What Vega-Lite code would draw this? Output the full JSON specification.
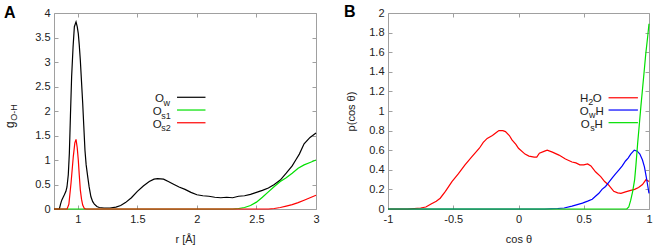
{
  "$schema": "https://vega.github.io/schema/vega-lite/v6.json",
  "padding": {"left": 3, "top": 3, "right": 4, "bottom": 2},
  "spacing": 72,
  "bounds": "flush",
  "resolve": {"scale": {"color": "independent"}},
  "config": {
    "font": "Liberation Sans",
    "view": {"stroke": "#a0a0a0", "strokeWidth": 1},
    "axis": {"domain": false, "grid": false, "tickColor": "#a0a0a0", "tickSize": -4, "labelFontSize": 11, "labelColor": "#222", "titleFontSize": 11, "titleFontWeight": "normal", "titleColor": "#222", "labelPadding": 8, "labelFlush": false, "labelOverlap": false},
    "text": {"font": "Liberation Sans", "color": "#222"}
  },
  "datasets": {
    "gA": [
      {"series":"Ow","r":0.8,"g":0},{"series":"Ow","r":0.845,"g":0},{"series":"Ow","r":0.855,"g":0.1},{"series":"Ow","r":0.865,"g":0.18},{"series":"Ow","r":0.875,"g":0.23},{"series":"Ow","r":0.887,"g":0.29},{"series":"Ow","r":0.9,"g":0.36},{"series":"Ow","r":0.909,"g":0.45},{"series":"Ow","r":0.92,"g":0.7},{"series":"Ow","r":0.929,"g":1.14},{"series":"Ow","r":0.938,"g":1.9},{"series":"Ow","r":0.948,"g":2.7},{"series":"Ow","r":0.96,"g":3.3},{"series":"Ow","r":0.971,"g":3.72},{"series":"Ow","r":0.985,"g":3.82},{"series":"Ow","r":0.995,"g":3.72},{"series":"Ow","r":1.004,"g":3.58},{"series":"Ow","r":1.012,"g":3.35},{"series":"Ow","r":1.021,"g":3.04},{"series":"Ow","r":1.031,"g":2.6},{"series":"Ow","r":1.041,"g":2.16},{"series":"Ow","r":1.05,"g":1.7},{"series":"Ow","r":1.06,"g":1.2},{"series":"Ow","r":1.07,"g":0.9},{"series":"Ow","r":1.083,"g":0.66},{"series":"Ow","r":1.095,"g":0.45},{"series":"Ow","r":1.11,"g":0.25},{"series":"Ow","r":1.125,"g":0.15},{"series":"Ow","r":1.139,"g":0.1},{"series":"Ow","r":1.16,"g":0.05},{"series":"Ow","r":1.18,"g":0.03},{"series":"Ow","r":1.22,"g":0.02},{"series":"Ow","r":1.27,"g":0.02},{"series":"Ow","r":1.32,"g":0.04},{"series":"Ow","r":1.36,"g":0.07},{"series":"Ow","r":1.4,"g":0.13},{"series":"Ow","r":1.45,"g":0.23},{"series":"Ow","r":1.5,"g":0.36},{"series":"Ow","r":1.55,"g":0.47},{"series":"Ow","r":1.6,"g":0.56},{"series":"Ow","r":1.64,"g":0.61},{"series":"Ow","r":1.67,"g":0.62},{"series":"Ow","r":1.72,"g":0.61},{"series":"Ow","r":1.76,"g":0.56},{"series":"Ow","r":1.8,"g":0.51},{"series":"Ow","r":1.85,"g":0.45},{"series":"Ow","r":1.9,"g":0.4},{"series":"Ow","r":1.95,"g":0.34},{"series":"Ow","r":2.0,"g":0.29},{"series":"Ow","r":2.05,"g":0.27},{"series":"Ow","r":2.1,"g":0.26},{"series":"Ow","r":2.15,"g":0.24},{"series":"Ow","r":2.2,"g":0.23},{"series":"Ow","r":2.25,"g":0.24},{"series":"Ow","r":2.3,"g":0.23},{"series":"Ow","r":2.35,"g":0.26},{"series":"Ow","r":2.4,"g":0.27},{"series":"Ow","r":2.45,"g":0.3},{"series":"Ow","r":2.5,"g":0.34},{"series":"Ow","r":2.55,"g":0.38},{"series":"Ow","r":2.6,"g":0.43},{"series":"Ow","r":2.65,"g":0.5},{"series":"Ow","r":2.7,"g":0.59},{"series":"Ow","r":2.75,"g":0.73},{"series":"Ow","r":2.8,"g":0.88},{"series":"Ow","r":2.83,"g":1.0},{"series":"Ow","r":2.86,"g":1.12},{"series":"Ow","r":2.9,"g":1.33},{"series":"Ow","r":2.95,"g":1.46},{"series":"Ow","r":3.0,"g":1.55},
      {"series":"Os1","r":0.8,"g":0},{"series":"Os1","r":2.3,"g":0},{"series":"Os1","r":2.35,"g":0.01},{"series":"Os1","r":2.4,"g":0.03},{"series":"Os1","r":2.45,"g":0.07},{"series":"Os1","r":2.5,"g":0.14},{"series":"Os1","r":2.55,"g":0.24},{"series":"Os1","r":2.6,"g":0.35},{"series":"Os1","r":2.65,"g":0.46},{"series":"Os1","r":2.7,"g":0.56},{"series":"Os1","r":2.75,"g":0.64},{"series":"Os1","r":2.8,"g":0.73},{"series":"Os1","r":2.85,"g":0.83},{"series":"Os1","r":2.9,"g":0.9},{"series":"Os1","r":2.95,"g":0.95},{"series":"Os1","r":3.0,"g":1.0},
      {"series":"Os2","r":0.8,"g":0},{"series":"Os2","r":0.91,"g":0},{"series":"Os2","r":0.925,"g":0.1},{"series":"Os2","r":0.943,"g":0.53},{"series":"Os2","r":0.962,"g":1.07},{"series":"Os2","r":0.975,"g":1.35},{"series":"Os2","r":0.985,"g":1.42},{"series":"Os2","r":0.995,"g":1.25},{"series":"Os2","r":1.004,"g":1.0},{"series":"Os2","r":1.012,"g":0.7},{"series":"Os2","r":1.021,"g":0.39},{"series":"Os2","r":1.031,"g":0.2},{"series":"Os2","r":1.041,"g":0.08},{"series":"Os2","r":1.055,"g":0.01},{"series":"Os2","r":1.07,"g":0},{"series":"Os2","r":2.6,"g":0},{"series":"Os2","r":2.65,"g":0.01},{"series":"Os2","r":2.7,"g":0.03},{"series":"Os2","r":2.75,"g":0.06},{"series":"Os2","r":2.8,"g":0.09},{"series":"Os2","r":2.85,"g":0.13},{"series":"Os2","r":2.9,"g":0.18},{"series":"Os2","r":2.95,"g":0.23},{"series":"Os2","r":3.0,"g":0.28}
    ],
    "pB": [
      {"series":"H2O","c":-1,"p":0},{"series":"H2O","c":-0.85,"p":0},{"series":"H2O","c":-0.8,"p":0.005},{"series":"H2O","c":-0.75,"p":0.01},{"series":"H2O","c":-0.71,"p":0.02},{"series":"H2O","c":-0.67,"p":0.05},{"series":"H2O","c":-0.63,"p":0.08},{"series":"H2O","c":-0.6,"p":0.11},{"series":"H2O","c":-0.56,"p":0.18},{"series":"H2O","c":-0.51,"p":0.28},{"series":"H2O","c":-0.46,"p":0.36},{"series":"H2O","c":-0.41,"p":0.45},{"series":"H2O","c":-0.36,"p":0.53},{"series":"H2O","c":-0.3,"p":0.62},{"series":"H2O","c":-0.27,"p":0.68},{"series":"H2O","c":-0.24,"p":0.72},{"series":"H2O","c":-0.2,"p":0.75},{"series":"H2O","c":-0.17,"p":0.78},{"series":"H2O","c":-0.15,"p":0.8},{"series":"H2O","c":-0.12,"p":0.8},{"series":"H2O","c":-0.1,"p":0.79},{"series":"H2O","c":-0.07,"p":0.75},{"series":"H2O","c":-0.05,"p":0.705},{"series":"H2O","c":-0.02,"p":0.66},{"series":"H2O","c":0,"p":0.62},{"series":"H2O","c":0.05,"p":0.56},{"series":"H2O","c":0.08,"p":0.54},{"series":"H2O","c":0.12,"p":0.53},{"series":"H2O","c":0.14,"p":0.53},{"series":"H2O","c":0.16,"p":0.57},{"series":"H2O","c":0.2,"p":0.59},{"series":"H2O","c":0.22,"p":0.6},{"series":"H2O","c":0.26,"p":0.58},{"series":"H2O","c":0.31,"p":0.55},{"series":"H2O","c":0.36,"p":0.51},{"series":"H2O","c":0.41,"p":0.48},{"series":"H2O","c":0.44,"p":0.47},{"series":"H2O","c":0.47,"p":0.45},{"series":"H2O","c":0.5,"p":0.45},{"series":"H2O","c":0.53,"p":0.46},{"series":"H2O","c":0.555,"p":0.44},{"series":"H2O","c":0.59,"p":0.38},{"series":"H2O","c":0.63,"p":0.33},{"series":"H2O","c":0.66,"p":0.28},{"series":"H2O","c":0.69,"p":0.245},{"series":"H2O","c":0.73,"p":0.18},{"series":"H2O","c":0.76,"p":0.165},{"series":"H2O","c":0.785,"p":0.16},{"series":"H2O","c":0.82,"p":0.175},{"series":"H2O","c":0.86,"p":0.19},{"series":"H2O","c":0.89,"p":0.2},{"series":"H2O","c":0.92,"p":0.22},{"series":"H2O","c":0.95,"p":0.25},{"series":"H2O","c":0.977,"p":0.3},{"series":"H2O","c":1,"p":0.28},
      {"series":"OwH","c":-1,"p":0},{"series":"OwH","c":0.2,"p":0},{"series":"OwH","c":0.3,"p":0.005},{"series":"OwH","c":0.35,"p":0.01},{"series":"OwH","c":0.41,"p":0.03},{"series":"OwH","c":0.45,"p":0.045},{"series":"OwH","c":0.49,"p":0.06},{"series":"OwH","c":0.53,"p":0.08},{"series":"OwH","c":0.565,"p":0.1},{"series":"OwH","c":0.59,"p":0.13},{"series":"OwH","c":0.616,"p":0.16},{"series":"OwH","c":0.64,"p":0.2},{"series":"OwH","c":0.667,"p":0.23},{"series":"OwH","c":0.69,"p":0.27},{"series":"OwH","c":0.72,"p":0.32},{"series":"OwH","c":0.745,"p":0.36},{"series":"OwH","c":0.77,"p":0.4},{"series":"OwH","c":0.795,"p":0.44},{"series":"OwH","c":0.82,"p":0.49},{"series":"OwH","c":0.84,"p":0.52},{"series":"OwH","c":0.86,"p":0.56},{"series":"OwH","c":0.887,"p":0.6},{"series":"OwH","c":0.91,"p":0.59},{"series":"OwH","c":0.93,"p":0.56},{"series":"OwH","c":0.95,"p":0.5},{"series":"OwH","c":0.965,"p":0.43},{"series":"OwH","c":0.98,"p":0.32},{"series":"OwH","c":0.99,"p":0.24},{"series":"OwH","c":1,"p":0.16},
      {"series":"OsH","c":-1,"p":0},{"series":"OsH","c":0.83,"p":0},{"series":"OsH","c":0.845,"p":0.02},{"series":"OsH","c":0.86,"p":0.09},{"series":"OsH","c":0.875,"p":0.18},{"series":"OsH","c":0.89,"p":0.3},{"series":"OsH","c":0.9,"p":0.45},{"series":"OsH","c":0.913,"p":0.67},{"series":"OsH","c":0.925,"p":0.85},{"series":"OsH","c":0.938,"p":1.05},{"series":"OsH","c":0.95,"p":1.22},{"series":"OsH","c":0.962,"p":1.39},{"series":"OsH","c":0.975,"p":1.58},{"series":"OsH","c":0.99,"p":1.76},{"series":"OsH","c":1,"p":1.89}
    ]
  },
  "hconcat": [
    {
      "width": 262, "height": 196,
      "resolve": {"axis": {"x": "independent", "y": "independent"}},
      "layer": [
        {
          "data": {"name": "gA"},
          "mark": {"type": "line", "strokeWidth": 1.2},
          "encoding": {
            "x": {"field": "r", "type": "quantitative", "scale": {"domain": [0.8, 3], "nice": false, "zero": false}, "axis": {"values": [1, 1.5, 2, 2.5, 3], "labelExpr": "'' + datum.value", "title": "r [Å]", "titlePadding": 9}},
            "y": {"field": "g", "type": "quantitative", "scale": {"domain": [0, 4], "nice": false}, "axis": {"values": [0, 0.5, 1, 1.5, 2, 2.5, 3, 3.5, 4], "labelExpr": "'' + datum.value", "title": null}},
            "color": {"field": "series", "type": "nominal", "scale": {"domain": ["Ow", "Os1", "Os2"], "range": ["#000000", "#00e000", "#ff0000"]}, "legend": null}
          }
        },
        {
          "data": {"values": [{"t": "A"}]},
          "mark": {"type": "text", "align": "left", "baseline": "alphabetic", "fontSize": 16, "fontWeight": "bold", "color": "#000000"},
          "encoding": {
            "text": {"field": "t"},
            "x": {"datum": 0.38, "type": "quantitative", "axis": {"orient": "top", "values": [1, 1.5, 2, 2.5, 3], "labels": false, "title": null}},
            "y": {"datum": 3.898, "type": "quantitative", "axis": {"orient": "right", "values": [0, 0.5, 1, 1.5, 2, 2.5, 3, 3.5, 4], "labels": false, "title": null}}
          }
        },
        {
          "data": {"values": [{}]},
          "mark": {"type": "rule", "strokeWidth": 1.2},
          "encoding": {"color": {"value": "#000000"}, "x": {"datum": 1.833, "type": "quantitative", "axis": null}, "x2": {"datum": 2.072}, "y": {"datum": 2.28, "type": "quantitative", "axis": null}}
        },
        {
          "data": {"values": [{}]},
          "mark": {"type": "rule", "strokeWidth": 1.2},
          "encoding": {"color": {"value": "#00e000"}, "x": {"datum": 1.833, "type": "quantitative", "axis": null}, "x2": {"datum": 2.072}, "y": {"datum": 2.02, "type": "quantitative", "axis": null}}
        },
        {
          "data": {"values": [{}]},
          "mark": {"type": "rule", "strokeWidth": 1.2},
          "encoding": {"color": {"value": "#ff0000"}, "x": {"datum": 1.833, "type": "quantitative", "axis": null}, "x2": {"datum": 2.072}, "y": {"datum": 1.76, "type": "quantitative", "axis": null}}
        },
        {
          "data": {"values": [{"t": "O"}]},
          "mark": {"type": "text", "align": "left", "baseline": "alphabetic", "dy": 5, "fontSize": 11.5},
          "encoding": {"text": {"field": "t"}, "x": {"datum": 1.648, "type": "quantitative", "axis": null}, "y": {"datum": 2.28, "type": "quantitative", "axis": null}}
        },
        {
          "data": {"values": [{"t": "w"}]},
          "mark": {"type": "text", "align": "left", "baseline": "alphabetic", "dy": 8.5, "fontSize": 9},
          "encoding": {"text": {"field": "t"}, "x": {"datum": 1.72, "type": "quantitative", "axis": null}, "y": {"datum": 2.28, "type": "quantitative", "axis": null}}
        },
        {
          "data": {"values": [{"t": "O"}]},
          "mark": {"type": "text", "align": "left", "baseline": "alphabetic", "dy": 5, "fontSize": 11.5},
          "encoding": {"text": {"field": "t"}, "x": {"datum": 1.629, "type": "quantitative", "axis": null}, "y": {"datum": 2.02, "type": "quantitative", "axis": null}}
        },
        {
          "data": {"values": [{"t": "s1"}]},
          "mark": {"type": "text", "align": "left", "baseline": "alphabetic", "dy": 8.5, "fontSize": 9},
          "encoding": {"text": {"field": "t"}, "x": {"datum": 1.7, "type": "quantitative", "axis": null}, "y": {"datum": 2.02, "type": "quantitative", "axis": null}}
        },
        {
          "data": {"values": [{"t": "O"}]},
          "mark": {"type": "text", "align": "left", "baseline": "alphabetic", "dy": 5, "fontSize": 11.5},
          "encoding": {"text": {"field": "t"}, "x": {"datum": 1.629, "type": "quantitative", "axis": null}, "y": {"datum": 1.76, "type": "quantitative", "axis": null}}
        },
        {
          "data": {"values": [{"t": "s2"}]},
          "mark": {"type": "text", "align": "left", "baseline": "alphabetic", "dy": 8.5, "fontSize": 9},
          "encoding": {"text": {"field": "t"}, "x": {"datum": 1.7, "type": "quantitative", "axis": null}, "y": {"datum": 1.76, "type": "quantitative", "axis": null}}
        },
        {
          "data": {"values": [{"t": "g"}]},
          "mark": {"type": "text", "align": "left", "baseline": "alphabetic", "angle": 270, "fontSize": 12},
          "encoding": {"text": {"field": "t"}, "x": {"datum": 0.468, "type": "quantitative", "axis": null}, "y": {"datum": 1.653, "type": "quantitative", "axis": null}}
        },
        {
          "data": {"values": [{"t": "O-H"}]},
          "mark": {"type": "text", "align": "left", "baseline": "alphabetic", "angle": 270, "fontSize": 9},
          "encoding": {"text": {"field": "t"}, "x": {"datum": 0.487, "type": "quantitative", "axis": null}, "y": {"datum": 1.8, "type": "quantitative", "axis": null}}
        }
      ]
    },
    {
      "width": 261, "height": 196,
      "resolve": {"axis": {"x": "independent", "y": "independent"}},
      "layer": [
        {
          "data": {"name": "pB"},
          "mark": {"type": "line", "strokeWidth": 1.2},
          "encoding": {
            "x": {"field": "c", "type": "quantitative", "scale": {"domain": [-1, 1], "nice": false, "zero": false}, "axis": {"values": [-1, -0.5, 0, 0.5, 1], "labelExpr": "'' + datum.value", "title": "cos θ", "titlePadding": 9}},
            "y": {"field": "p", "type": "quantitative", "scale": {"domain": [0, 2], "nice": false}, "axis": {"values": [0, 0.2, 0.4, 0.6, 0.8, 1, 1.2, 1.4, 1.6, 1.8, 2], "labelExpr": "'' + datum.value", "title": "p(cos θ)", "titlePadding": 12}},
            "color": {"field": "series", "type": "nominal", "scale": {"domain": ["H2O", "OwH", "OsH"], "range": ["#ff0000", "#0000ff", "#00e000"]}, "legend": null}
          }
        },
        {
          "data": {"values": [{"t": "B"}]},
          "mark": {"type": "text", "align": "left", "baseline": "alphabetic", "fontSize": 16, "fontWeight": "bold", "color": "#000000"},
          "encoding": {
            "text": {"field": "t"},
            "x": {"datum": -1.338, "type": "quantitative", "axis": {"orient": "top", "values": [-1, -0.5, 0, 0.5, 1], "labels": false, "title": null}},
            "y": {"datum": 1.959, "type": "quantitative", "axis": {"orient": "right", "values": [0, 0.2, 0.4, 0.6, 0.8, 1, 1.2, 1.4, 1.6, 1.8, 2], "labels": false, "title": null}}
          }
        },
        {
          "data": {"values": [{}]},
          "mark": {"type": "rule", "strokeWidth": 1.2},
          "encoding": {"color": {"value": "#ff0000"}, "x": {"datum": 0.69, "type": "quantitative", "axis": null}, "x2": {"datum": 0.915}, "y": {"datum": 1.135, "type": "quantitative", "axis": null}}
        },
        {
          "data": {"values": [{}]},
          "mark": {"type": "rule", "strokeWidth": 1.2},
          "encoding": {"color": {"value": "#0000ff"}, "x": {"datum": 0.69, "type": "quantitative", "axis": null}, "x2": {"datum": 0.915}, "y": {"datum": 1.01, "type": "quantitative", "axis": null}}
        },
        {
          "data": {"values": [{}]},
          "mark": {"type": "rule", "strokeWidth": 1.2},
          "encoding": {"color": {"value": "#00e000"}, "x": {"datum": 0.69, "type": "quantitative", "axis": null}, "x2": {"datum": 0.915}, "y": {"datum": 0.881, "type": "quantitative", "axis": null}}
        },
        {
          "data": {"values": [{"t": "H"}]},
          "mark": {"type": "text", "align": "left", "baseline": "alphabetic", "dy": 5, "fontSize": 11.5},
          "encoding": {"text": {"field": "t"}, "x": {"datum": 0.4715, "type": "quantitative", "axis": null}, "y": {"datum": 1.14, "type": "quantitative", "axis": null}}
        },
        {
          "data": {"values": [{"t": "2"}]},
          "mark": {"type": "text", "align": "left", "baseline": "alphabetic", "dy": 8, "fontSize": 9},
          "encoding": {"text": {"field": "t"}, "x": {"datum": 0.535, "type": "quantitative", "axis": null}, "y": {"datum": 1.14, "type": "quantitative", "axis": null}}
        },
        {
          "data": {"values": [{"t": "O"}]},
          "mark": {"type": "text", "align": "left", "baseline": "alphabetic", "dy": 5, "fontSize": 11.5},
          "encoding": {"text": {"field": "t"}, "x": {"datum": 0.569, "type": "quantitative", "axis": null}, "y": {"datum": 1.14, "type": "quantitative", "axis": null}}
        },
        {
          "data": {"values": [{"t": "O"}]},
          "mark": {"type": "text", "align": "left", "baseline": "alphabetic", "dy": 5, "fontSize": 11.5},
          "encoding": {"text": {"field": "t"}, "x": {"datum": 0.469, "type": "quantitative", "axis": null}, "y": {"datum": 1.01, "type": "quantitative", "axis": null}}
        },
        {
          "data": {"values": [{"t": "w"}]},
          "mark": {"type": "text", "align": "left", "baseline": "alphabetic", "dy": 8, "fontSize": 9},
          "encoding": {"text": {"field": "t"}, "x": {"datum": 0.541, "type": "quantitative", "axis": null}, "y": {"datum": 1.01, "type": "quantitative", "axis": null}}
        },
        {
          "data": {"values": [{"t": "H"}]},
          "mark": {"type": "text", "align": "left", "baseline": "alphabetic", "dy": 5, "fontSize": 11.5},
          "encoding": {"text": {"field": "t"}, "x": {"datum": 0.59, "type": "quantitative", "axis": null}, "y": {"datum": 1.01, "type": "quantitative", "axis": null}}
        },
        {
          "data": {"values": [{"t": "O"}]},
          "mark": {"type": "text", "align": "left", "baseline": "alphabetic", "dy": 5, "fontSize": 11.5},
          "encoding": {"text": {"field": "t"}, "x": {"datum": 0.477, "type": "quantitative", "axis": null}, "y": {"datum": 0.881, "type": "quantitative", "axis": null}}
        },
        {
          "data": {"values": [{"t": "s"}]},
          "mark": {"type": "text", "align": "left", "baseline": "alphabetic", "dy": 8, "fontSize": 9},
          "encoding": {"text": {"field": "t"}, "x": {"datum": 0.549, "type": "quantitative", "axis": null}, "y": {"datum": 0.881, "type": "quantitative", "axis": null}}
        },
        {
          "data": {"values": [{"t": "H"}]},
          "mark": {"type": "text", "align": "left", "baseline": "alphabetic", "dy": 5, "fontSize": 11.5},
          "encoding": {"text": {"field": "t"}, "x": {"datum": 0.582, "type": "quantitative", "axis": null}, "y": {"datum": 0.881, "type": "quantitative", "axis": null}}
        }
      ]
    }
  ]
}
